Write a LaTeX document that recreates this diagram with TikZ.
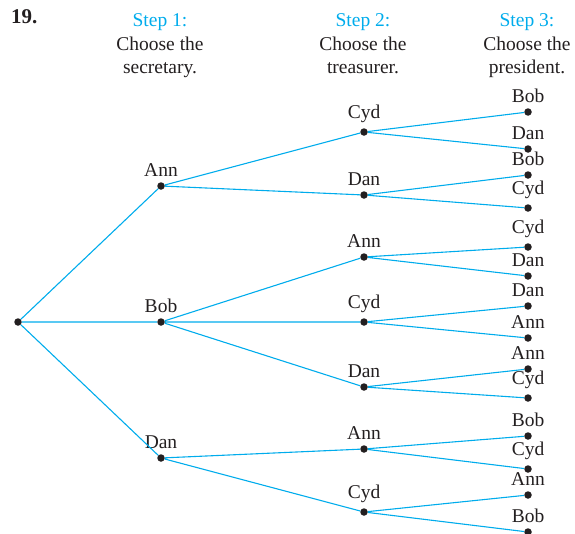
\documentclass[tikz,border=0pt]{standalone}
\usepackage{fontspec}
\setmainfont{Liberation Serif}
\definecolor{treecyan}{RGB}{0,172,236}
\definecolor{ink}{RGB}{35,31,32}
\begin{document}
\begin{tikzpicture}[x=1pt,y=-1pt,
  dot/.style={circle,fill=ink,inner sep=0pt,minimum size=7.5pt},
  lab/.style={anchor=base,font=\fontsize{19.5}{23}\selectfont,text=ink,inner sep=0pt},
  lbl/.style={dot,label={[lab,label distance=5.75pt]90:#1}},
  lblc/.style={dot,label={[lab,label distance=9.25pt]90:#1}},
  hd/.style={anchor=base,font=\fontsize{19.5}{23}\selectfont,text=ink,inner sep=0pt},
  hdstep/.style={hd,text=treecyan},
  edge/.style={draw=treecyan,line width=1.1pt}]
\useasboundingbox (0,0) rectangle (575,533);
% headings
\node[anchor=base west,font=\fontsize{21}{24}\bfseries,text=ink,inner sep=0pt] (num) at (11,23) {19.};
\node[hdstep] (s1) at (160,26.5) {Step 1:};
\node[hd] (s1a) at (160,50) {Choose the};
\node[hd] (s1b) at (160,73) {secretary.};
\node[hdstep] (s2) at (363,26.5) {Step 2:};
\node[hd] (s2a) at (363,50) {Choose the};
\node[hd] (s2b) at (363,73) {treasurer.};
\node[hdstep] (s3) at (527,26.5) {Step 3:};
\node[hd] (s3a) at (527,50) {Choose the};
\node[hd] (s3b) at (527,73) {president.};
% root and level 1
\node[dot] (r) at (18,322) {};
\node[lbl=Ann] (a) at (161,186) {};
\node[lbl=Bob] (b) at (161,322) {};
\node[lbl=Dan] (d) at (161,458) {};
% level 2
\node[lblc=Cyd] (ac) at (364,132) {};
\node[lbl=Dan] (ad) at (364,195) {};
\node[lbl=Ann] (ba) at (364,257) {};
\node[lblc=Cyd] (bc) at (364,322) {};
\node[lbl=Dan] (bd) at (364,387) {};
\node[lbl=Ann] (da) at (364,449) {};
\node[lblc=Cyd] (dc) at (364,512) {};
% level 3
\node[lbl=Bob] (acb) at (528,112) {};
\node[lbl=Dan] (acd) at (528,149) {};
\node[lbl=Bob] (adb) at (528,175) {};
\node[lblc=Cyd] (adc) at (528,208) {};
\node[lblc=Cyd] (bac) at (528,247) {};
\node[lbl=Dan] (bad) at (528,276) {};
\node[lbl=Dan] (bcd) at (528,306) {};
\node[lbl=Ann] (bca) at (528,338) {};
\node[lbl=Ann] (bda) at (528,369) {};
\node[lblc=Cyd] (bdc) at (528,398) {};
\node[lbl=Bob] (dab) at (528,436) {};
\node[lblc=Cyd] (dac) at (528,469) {};
\node[lbl=Ann] (dca) at (528,495) {};
\node[lbl=Bob] (dcb) at (528,532) {};
% edges
\path[edge] (r) -- (a) (r) -- (b) (r) -- (d);
\path[edge] (a) -- (ac) (a) -- (ad) (b) -- (ba) (b) -- (bc) (b) -- (bd) (d) -- (da) (d) -- (dc);
\path[edge] (ac) -- (acb) (ac) -- (acd) (ad) -- (adb) (ad) -- (adc)
  (ba) -- (bac) (ba) -- (bad) (bc) -- (bcd) (bc) -- (bca)
  (bd) -- (bda) (bd) -- (bdc) (da) -- (dab) (da) -- (dac)
  (dc) -- (dca) (dc) -- (dcb);
\end{tikzpicture}
\end{document}
